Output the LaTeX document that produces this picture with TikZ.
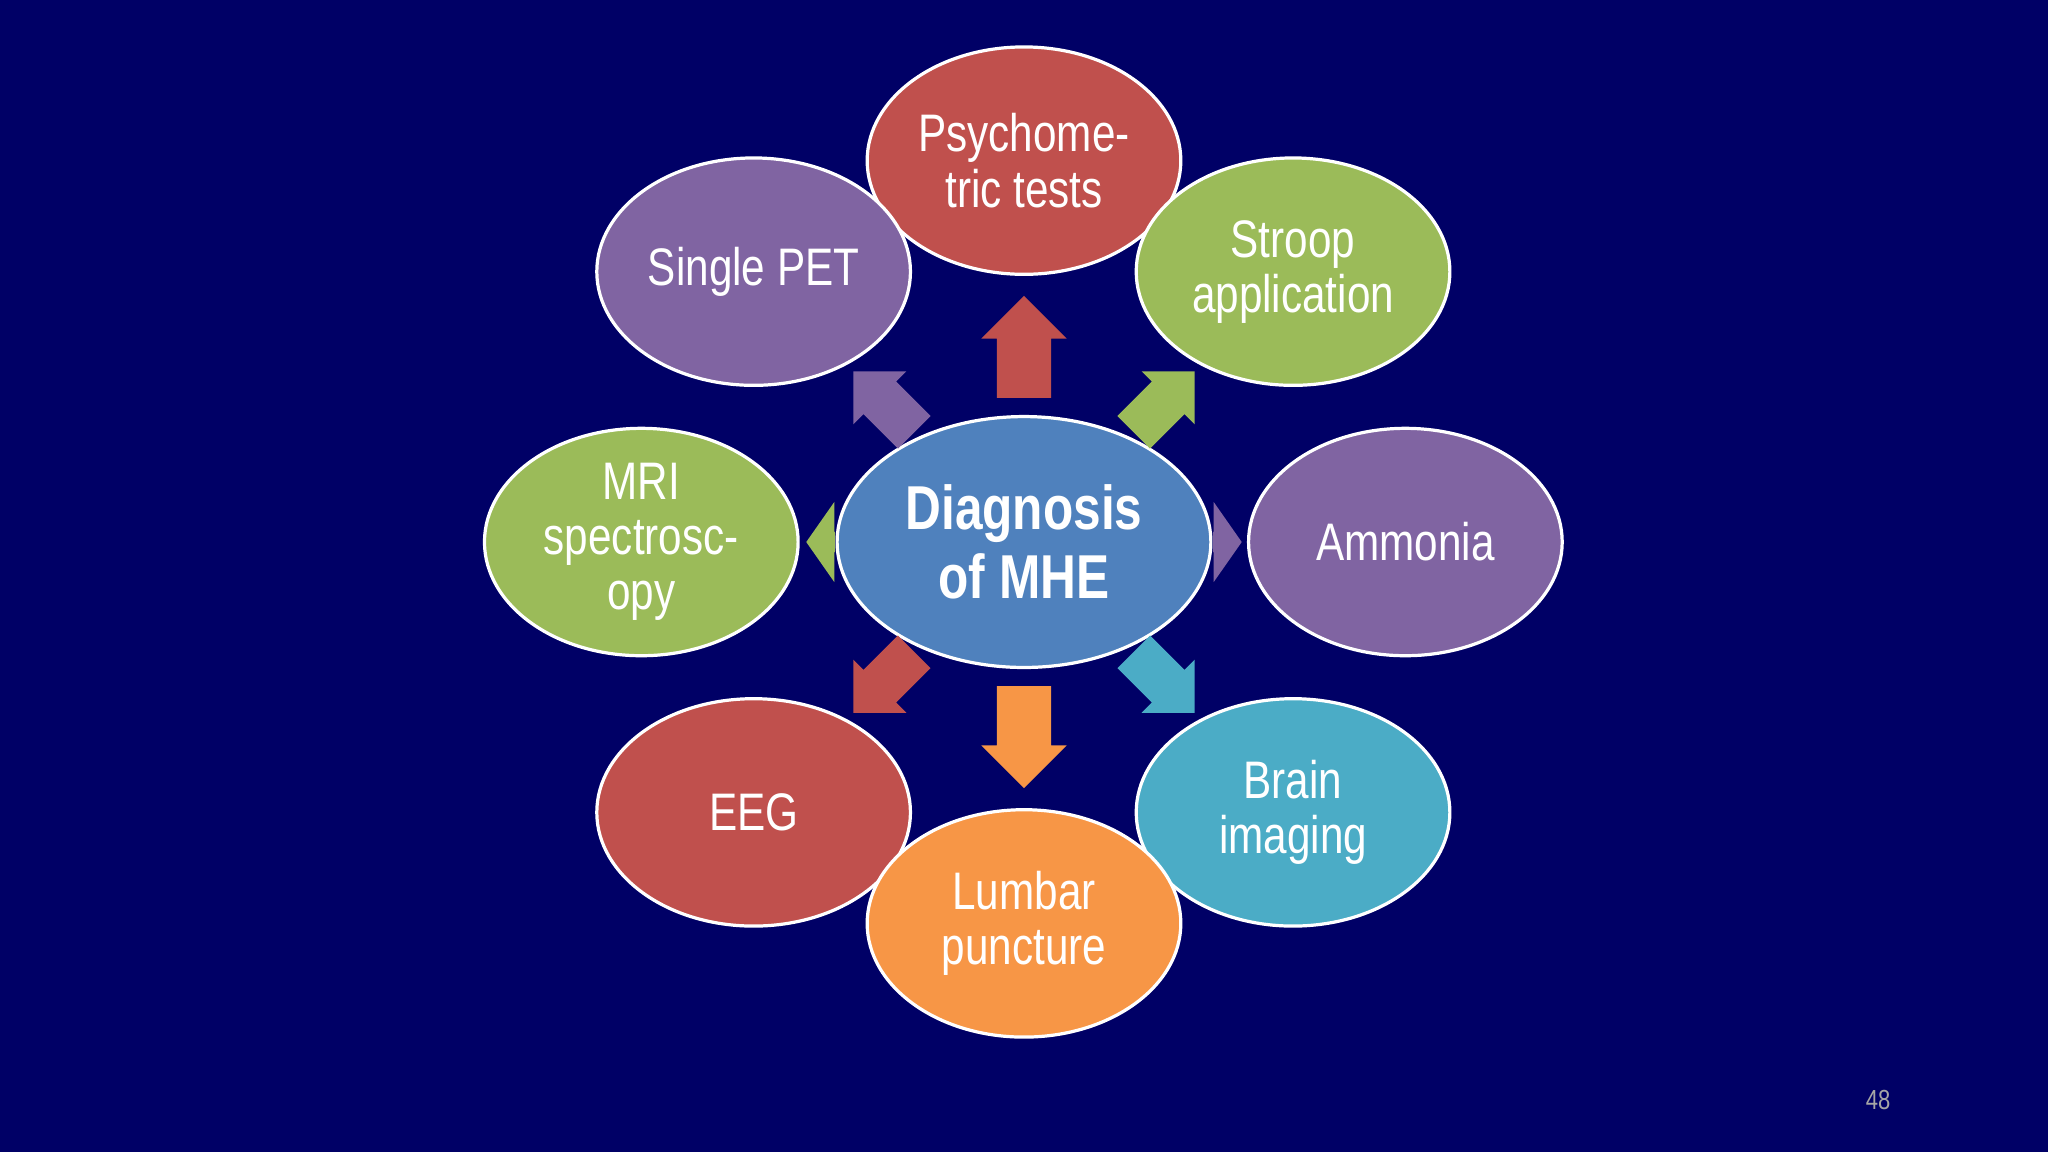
\documentclass[tikz,border=0pt]{standalone}
\usepackage{fontspec}
\setmainfont{Liberation Sans}[FakeStretch=0.8]
\usetikzlibrary{shapes.arrows,shapes.geometric,calc}
\definecolor{bg}{HTML}{000066}
\definecolor{cred}{HTML}{C0504D}
\definecolor{cgreen}{HTML}{9BBB59}
\definecolor{cpurple}{HTML}{8064A2}
\definecolor{cblue}{HTML}{4F81BD}
\definecolor{cteal}{HTML}{4BACC6}
\definecolor{corange}{HTML}{F79646}
\begin{document}
\begin{tikzpicture}[x=0.01cm,y=0.01cm,
  el/.style={ellipse, draw=white, line width=0.7pt, minimum width=2.4cm, minimum height=1.74cm, inner sep=0pt},
  txt/.style={align=center, text=white, inner sep=0pt, font=\fontsize{11.5}{12}\selectfont},
  arr/.style={single arrow, draw=none, inner xsep=0pt},
  big/.style={arr, minimum height=0.78cm, inner ysep=0.2cm, single arrow head extend=0.12cm},
  diag/.style={arr, minimum height=0.66cm, inner ysep=0.17cm, single arrow head extend=0.11cm},
  small/.style={arr, minimum height=0.22cm, inner ysep=0.07cm, single arrow head extend=0.23cm, single arrow tip angle=110},
]
\fill[bg] (0,0) rectangle (1568,882);
\useasboundingbox (0,0) rectangle (1568,882);
\node[el, fill=cred] (top) at (784,759) {};
\node[el, fill=cpurple] (pet) at (577,674) {};
\node[el, fill=cgreen] (stroop) at (990,674) {};
\node[el, fill=cgreen] (mri) at (491,467) {};
\node[el, fill=cpurple] (amm) at (1076,467) {};
\node[el, fill=cred] (eeg) at (577,260) {};
\node[el, fill=cteal] (brain) at (990,260) {};
\node[el, fill=corange] (lum) at (784,175) {};
\node[el, fill=cblue, minimum width=2.86cm, minimum height=1.92cm] (c) at (784,467) {};
\node[txt] (ttop) at (top) {Psychome-\\tric tests};
\node[txt] (tpet) at (pet) {Single PET};
\node[txt] (tstroop) at (stroop) {Stroop\\application};
\node[txt] (tmri) at (mri) {MRI\\spectrosc-\\opy};
\node[txt] (tamm) at (amm) {Ammonia};
\node[txt] (teeg) at (eeg) {EEG};
\node[txt] (tbrain) at (brain) {Brain\\imaging};
\node[txt] (tlum) at (lum) {Lumbar\\puncture};
\node[txt, font=\bfseries\fontsize{13.5}{15}\selectfont] (tc) at (c) {Diagnosis\\of MHE};
\node[big, fill=cred, rotate=90] (a1) at ($(c)+(90:139)$) {};
\node[diag, fill=cgreen, rotate=45] (a2) at ($(c)+(45:143)$) {};
\node[small, fill=cpurple, rotate=0] (a3) at ($(c)+(0:153)$) {};
\node[diag, fill=cteal, rotate=-45] (a4) at ($(c)+(-45:143)$) {};
\node[big, fill=corange, rotate=-90] (a5) at ($(c)+(-90:139)$) {};
\node[diag, fill=cred, rotate=-135] (a6) at ($(c)+(-135:143)$) {};
\node[small, fill=cgreen, rotate=180] (a7) at ($(c)+(180:153)$) {};
\node[diag, fill=cpurple, rotate=135] (a8) at ($(c)+(135:143)$) {};
\node[text=gray!70, font=\fontsize{6}{7}\selectfont] (pg) at (1438,40) {48};
\end{tikzpicture}
\end{document}
